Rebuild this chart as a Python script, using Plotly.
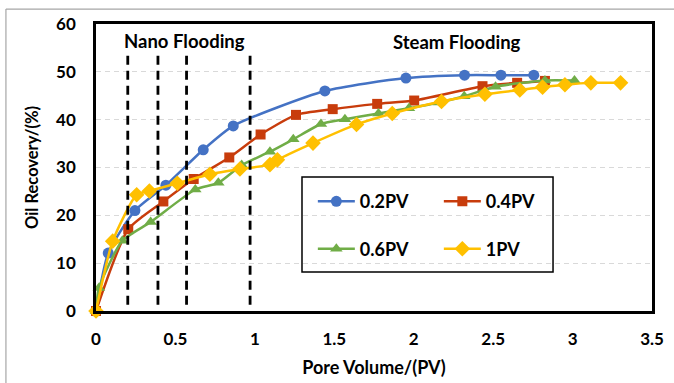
import plotly.graph_objects as go

# ---- data ----
x_02 = [0, 0.077, 0.245, 0.44, 0.675, 0.864, 1.441, 1.951, 2.32, 2.549, 2.756]
y_02 = [0, 12.1, 21.0, 26.3, 33.7, 38.7, 46.0, 48.7, 49.3, 49.3, 49.3]

x_04 = [0, 0.203, 0.424, 0.615, 0.839, 1.036, 1.259, 1.49, 1.77, 2.003, 2.433, 2.651, 2.826]
y_04 = [0, 17.1, 22.9, 27.6, 32.1, 36.9, 41.0, 42.2, 43.3, 44.0, 47.0, 47.7, 48.1]

x_06 = [0, 0.018, 0.166, 0.344, 0.625, 0.77, 0.917, 1.095, 1.242, 1.416, 1.567, 1.778,
        1.97, 2.16, 2.318, 2.515, 2.826, 3.012]
y_06 = [0, 4.8, 14.7, 18.6, 25.4, 26.8, 30.5, 33.3, 35.9, 39.1, 40.1, 41.3,
        42.4, 43.6, 44.9, 46.9, 48.2, 48.2]

x_1 = [0, 0.105, 0.256, 0.336, 0.512, 0.717, 0.906, 1.095, 1.142, 1.366, 1.64, 1.865,
       2.175, 2.448, 2.668, 2.811, 2.952, 3.115, 3.302]
y_1 = [0, 14.6, 24.3, 25.1, 26.7, 28.6, 29.7, 30.6, 31.6, 35.1, 39.0, 41.3,
       43.8, 45.3, 46.2, 46.8, 47.3, 47.7, 47.7]

series_names = ["0.2PV", "0.4PV", "0.6PV", "1PV"]
stage_boundaries = [0.2, 0.39, 0.57, 0.97]
stage_labels = ["Nano Flooding", "Steam Flooding"]
x_ticks = [0, 0.5, 1, 1.5, 2, 2.5, 3, 3.5]
y_ticks = [0, 10, 20, 30, 40, 50, 60]

FONT = "Lato"
colors = ["#4472C4", "#C83C0C", "#70AD47", "#FFC000"]
symbols = ["circle", "square", "triangle-up", "diamond"]
sizes = [11, 10, 11, 12]
legends = ["legend", "legend", "legend2", "legend2"]

fig = go.Figure()
for xs, ys, name, c, s, ms, lg in zip([x_02, x_04, x_06, x_1], [y_02, y_04, y_06, y_1],
                                      series_names, colors, symbols, sizes, legends):
    fig.add_trace(go.Scatter(
        x=xs, y=ys, name=name, mode="lines+markers",
        line=dict(color=c, width=2.5, shape="spline", smoothing=0.6),
        marker=dict(color=c, symbol=s, size=ms),
        cliponaxis=False, legend=lg,
    ))

shapes = []
for b in stage_boundaries:
    shapes.append(dict(type="line", xref="x", yref="y", x0=b, x1=b, y0=1.3, y1=54.2,
                       line=dict(color="black", width=2.8, dash="9px,6px"), layer="above"))
# legend frame
shapes.append(dict(type="rect", xref="paper", yref="paper", x0=0.3705, x1=0.822,
                   y0=0.136, y1=0.467, line=dict(color="black", width=1.5),
                   fillcolor="rgba(0,0,0,0)", layer="above"))
# outer picture frame
shapes.append(dict(type="line", xref="paper", yref="paper", x0=-0.162, x1=1.1, y0=1.052, y1=1.052,
                   line=dict(color="#a6a6a6", width=1.2)))
shapes.append(dict(type="line", xref="paper", yref="paper", x0=-0.162, x1=-0.162, y0=1.052, y1=-0.4,
                   line=dict(color="#a6a6a6", width=1.2)))

annotations = [
    dict(x=0.56, y=56.4, xref="x", yref="y", text=stage_labels[0], showarrow=False,
         font=dict(family=FONT, size=18.5, color="black", weight="bold")),
    dict(x=2.27, y=56.3, xref="x", yref="y", text=stage_labels[1], showarrow=False,
         font=dict(family=FONT, size=18.5, color="black", weight="bold")),
]

legend_common = dict(orientation="h", xanchor="left", yanchor="middle",
                     bgcolor="rgba(0,0,0,0)", borderwidth=0,
                     font=dict(family=FONT, size=18, color="black", weight="bold"),
                     itemwidth=37, entrywidth=74, entrywidthmode="pixels")

fig.update_layout(
    width=674, height=383,
    margin=dict(l=96, r=22, t=24, b=72, autoexpand=False),
    paper_bgcolor="white", plot_bgcolor="white",
    font=dict(family=FONT, color="black"),
    showlegend=True,
    legend=dict(x=0.39, y=0.381, **legend_common),
    legend2=dict(x=0.39, y=0.216, **legend_common),
    shapes=shapes,
    annotations=annotations,
    xaxis=dict(range=[0, 3.5], tickvals=x_ticks, ticktext=[f"{v:g}" for v in x_ticks],
               showgrid=False, zeroline=False, automargin=False,
               showline=True, linecolor="black", linewidth=2.5, mirror=True,
               ticks="", ticklabelstandoff=11,
               tickfont=dict(family=FONT, size=17, color="black", weight="bold"),
               title=dict(text="Pore Volume/(PV)", standoff=14,
                          font=dict(family=FONT, size=18, color="black", weight="bold"))),
    yaxis=dict(range=[0, 60], tickvals=y_ticks,
               showgrid=True, gridcolor="#d9d9d9", griddash="5px,4px", gridwidth=1.2,
               zeroline=False, automargin=False,
               showline=True, linecolor="black", linewidth=2.5, mirror=True,
               ticks="", ticklabelstandoff=14,
               tickfont=dict(family=FONT, size=17, color="black", weight="bold"),
               title=dict(text="Oil Recovery/(%)", standoff=14,
                          font=dict(family=FONT, size=16.5, color="black", weight="bold"))),
)

fig.write_html("out.html")
